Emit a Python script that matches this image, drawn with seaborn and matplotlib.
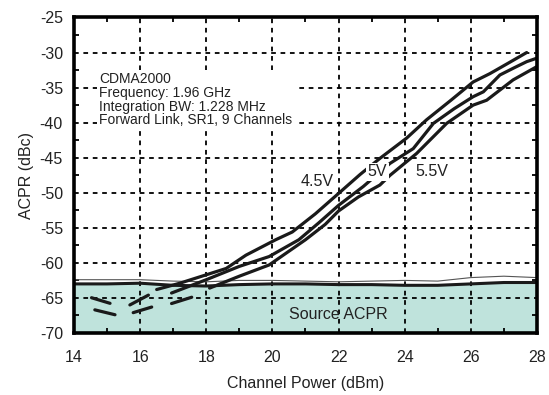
import matplotlib
matplotlib.use("Agg")
import matplotlib.pyplot as plt
import seaborn as sns
import pandas as pd
from matplotlib.ticker import MultipleLocator

# ---- data ----
x_45 = [16.5, 17.2, 18.0, 18.6, 19.2, 20.1, 20.6, 21.3, 22.0, 22.65, 23.25, 24.06, 24.66, 25.4, 26.07, 26.58, 27.1, 27.69]
y_45 = [-63.8, -62.9, -61.7, -60.8, -58.9, -56.7, -55.6, -53.0, -50.1, -47.4, -45.1, -42.2, -39.6, -36.8, -34.2, -33.0, -31.6, -30.0]

x_50 = [16.95, 18.0, 19.0, 19.9, 20.8, 21.4, 22.0, 22.75, 23.56, 24.26, 24.87, 25.5, 26.07, 26.38, 26.88, 27.3, 27.69, 28.0]
y_50 = [-64.3, -62.4, -60.5, -59.1, -56.7, -54.3, -51.8, -49.1, -45.8, -43.7, -40.1, -38.0, -36.3, -35.6, -33.2, -32.2, -31.3, -30.8]

x_55 = [18.1, 19.0, 19.9, 21.0, 21.6, 22.0, 22.6, 23.25, 23.56, 24.36, 25.27, 26.07, 26.48, 27.28, 28.0]
y_55 = [-63.6, -61.9, -60.3, -56.7, -54.5, -52.6, -50.6, -48.9, -47.5, -44.4, -40.1, -37.5, -36.8, -33.9, -32.0]

src_x = [14, 15, 16, 17, 18, 19, 20, 21, 22, 23, 24, 25, 26, 27, 28]
src_y = [-63.0, -63.0, -62.9, -63.2, -63.3, -63.1, -63.0, -63.0, -63.1, -63.1, -63.2, -63.2, -63.0, -62.8, -62.8]
src_thin_y = [-62.4, -62.4, -62.4, -62.6, -62.7, -62.5, -62.5, -62.6, -62.7, -62.6, -62.5, -62.6, -62.1, -61.9, -62.1]

# short fragments of the curves below the source ACPR level
frag_x0 = [14.53, 14.63, 15.69, 15.79, 16.95]
frag_x1 = [15.09, 15.24, 16.25, 16.35, 17.56]
frag_y0 = [-64.97, -66.7, -66.0, -67.1, -65.8]
frag_y1 = [-65.77, -67.4, -64.6, -66.3, -64.9]

x_ticks = [14, 16, 18, 20, 22, 24, 26, 28]
y_ticks = [-70, -65, -60, -55, -50, -45, -40, -35, -30, -25]

info_lines = ["CDMA2000", "Frequency: 1.96 GHz", "Integration BW: 1.228 MHz", "Forward Link, SR1, 9 Channels"]

# ---- plotting ----
sns.set_theme(style="white")
plt.rcParams['font.family'] = ['Liberation Sans', 'DejaVu Sans']
plt.rcParams['axes.unicode_minus'] = False

fig = plt.figure(figsize=(5.49, 3.95), dpi=100)
ax = fig.add_axes([0.1348, 0.157, 0.978 - 0.1348, 0.9557 - 0.157])

ax.set_xlim(14, 28)
ax.set_ylim(-70, -25)

# source ACPR shaded region
ax.fill_between(src_x, -70, src_y, color="#bfe3dc", lw=0, zorder=0.5)

ax.set_axisbelow('line')
ax.grid(True, which='major', color='black', linestyle=(0, (2.6, 2.6)), linewidth=1.3)

sns.lineplot(x=src_x, y=src_thin_y, ax=ax, color="#555555", lw=0.8, sort=False, estimator=None, zorder=2)
sns.lineplot(x=src_x, y=src_y, ax=ax, color="#1a1a1a", lw=2.2, sort=False, estimator=None, zorder=2.2)

for xs, ys in [(x_45, y_45), (x_50, y_50), (x_55, y_55)]:
    sns.lineplot(x=xs, y=ys, ax=ax, color="#1a1a1a", lw=2.3, sort=False, estimator=None, zorder=3)

for a, b, c, d in zip(frag_x0, frag_x1, frag_y0, frag_y1):
    sns.lineplot(x=[a, b], y=[c, d], ax=ax, color="#1a1a1a", lw=2.3, sort=False, estimator=None, zorder=3)

# annotations
ax.text(14.77, -36.75, "\n".join(info_lines), fontsize=10, va='center', ha='left',
        linespacing=0.97, color="#222222", zorder=5,
        bbox=dict(facecolor='white', edgecolor='none', pad=1.5))
ax.text(21.35, -48.4, "4.5V", fontsize=11.5, ha='center', va='center', color="#222222", zorder=5)
ax.text(23.18, -47.0, "5V", fontsize=11.5, ha='center', va='center', color="#222222", zorder=5,
        bbox=dict(facecolor='white', edgecolor='none', pad=1.0))
ax.text(24.82, -47.0, "5.5V", fontsize=11.5, ha='center', va='center', color="#222222", zorder=5)
ax.text(22.0, -67.3, "Source ACPR", fontsize=11.5, ha='center', va='center', color="#222222", zorder=5)

# axes styling
ax.set_xticks(x_ticks)
ax.set_yticks(y_ticks)
ax.xaxis.set_minor_locator(MultipleLocator(1))
ax.yaxis.set_minor_locator(MultipleLocator(2.5))
ax.tick_params(which='both', direction='in', top=True, right=True, bottom=True, left=True,
               color='black', width=1.3)
ax.tick_params(which='major', length=0)
ax.tick_params(which='minor', length=3.5)
ax.tick_params(axis='x', which='major', pad=12, labelsize=11.5, labelcolor="#222222")
ax.tick_params(axis='y', which='major', pad=8, labelsize=11.5, labelcolor="#222222")

for s in ax.spines.values():
    s.set_visible(True)
    s.set_color('black')
    s.set_linewidth(2.6)
    s.set_zorder(6)

ax.set_xlabel("Channel Power (dBm)", fontsize=11.5, labelpad=8, color="#222222")
ax.set_ylabel("ACPR (dBc)", fontsize=11.5, labelpad=4, color="#222222")

fig.savefig("out.png", dpi=100)
